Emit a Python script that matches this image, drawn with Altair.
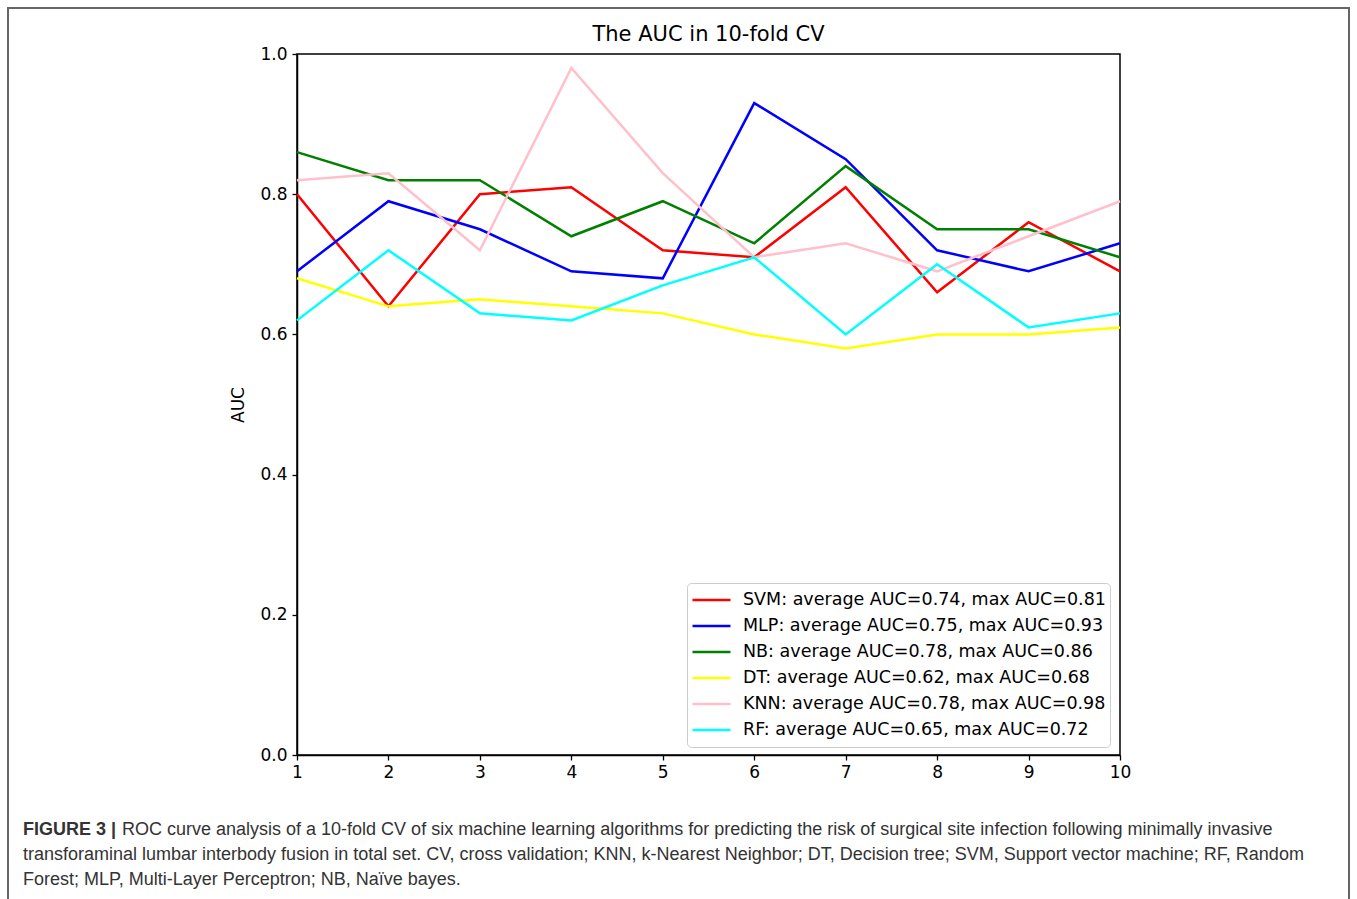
import altair as alt
import pandas as pd
import numpy as np

folds = list(range(1, 11))
series_names = ["SVM", "MLP", "NB", "DT", "KNN", "RF"]
series_colors = ["#ff0000", "#0000ff", "#008000", "#ffff00", "#ffc0cb", "#00ffff"]

svm = [0.80, 0.64, 0.80, 0.81, 0.72, 0.71, 0.81, 0.66, 0.76, 0.69]
mlp = [0.69, 0.79, 0.75, 0.69, 0.68, 0.93, 0.85, 0.72, 0.69, 0.73]
nb = [0.86, 0.82, 0.82, 0.74, 0.79, 0.73, 0.84, 0.75, 0.75, 0.71]
dt = [0.68, 0.64, 0.65, 0.64, 0.63, 0.60, 0.58, 0.60, 0.60, 0.61]
knn = [0.82, 0.83, 0.72, 0.98, 0.83, 0.71, 0.73, 0.69, 0.74, 0.79]
rf = [0.62, 0.72, 0.63, 0.62, 0.67, 0.71, 0.60, 0.70, 0.61, 0.63]

y_ticks = [0.0, 0.2, 0.4, 0.6, 0.8, 1.0]

title_text = "The AUC in 10-fold CV"
caption_bold = "FIGURE 3 |"
caption_1 = "ROC curve analysis of a 10-fold CV of six machine learning algorithms for predicting the risk of surgical site infection following minimally invasive"
caption_2 = "transforaminal lumbar interbody fusion in total set. CV, cross validation; KNN, k-Nearest Neighbor; DT, Decision tree; SVM, Support vector machine; RF, Random"
caption_3 = "Forest; MLP, Multi-Layer Perceptron; NB, Naïve bayes."

all_series = [svm, mlp, nb, dt, knn, rf]
labels = [f"{n}: average AUC={np.mean(v):.2f}, max AUC={max(v):.2f}" for n, v in zip(series_names, all_series)]

rows = []
for lab, vals in zip(labels, all_series):
    for f, v in zip(folds, vals):
        rows.append({"fold": f, "auc": v, "model": lab})
df = pd.DataFrame(rows)

W, H = 823, 701
L, T = 297, 54

lines = alt.Chart(df).mark_line(strokeWidth=2.5, clip=False).encode(
    x=alt.X("fold:Q", scale=alt.Scale(domain=[1, 10], nice=False, zero=False),
            axis=alt.Axis(values=folds, format="d", title=None, grid=False,
                          tickSize=5, labelFontSize=17, labelFont="DejaVu Sans",
                          labelColor="black", domainColor="black", tickColor="black",
                          domainWidth=1.5, tickWidth=1.3, labelPadding=4,
                          labelFlush=False, labelOverlap=False)),
    y=alt.Y("auc:Q", scale=alt.Scale(domain=[0, 1], nice=False),
            axis=alt.Axis(values=y_ticks, format=".1f", title="AUC", grid=False,
                          tickSize=5, labelFontSize=17, labelFont="DejaVu Sans",
                          labelColor="black", domainColor="black", tickColor="black",
                          domainWidth=1.5, tickWidth=1.3, labelPadding=5,
                          labelFlush=False, labelOverlap=False,
                          titleFont="DejaVu Sans", titleFontSize=17,
                          titleFontWeight="normal", titleColor="black", titlePadding=12)),
    color=alt.Color("model:N", scale=alt.Scale(domain=labels, range=series_colors),
                    sort=labels,
                    legend=alt.Legend(title=None, orient="none", legendX=390, legendY=529,
                                      symbolType="stroke", symbolSize=1444,
                                      symbolStrokeWidth=2.5, labelFontSize=17.5,
                                      labelFont="DejaVu Sans", labelColor="black",
                                      labelOffset=11, rowPadding=0, clipHeight=26,
                                      padding=4,
                                      strokeColor="#cccccc", fillColor="white",
                                      cornerRadius=4, labelLimit=500)),
    detail="model:N",
)

frame = alt.Chart(pd.DataFrame({"a": [0]})).mark_rect(
    fill=None, stroke="#666666", strokeWidth=2, clip=False
).encode(
    x=alt.value(8 - L), x2=alt.value(1349 - L),
    y=alt.value(8 - T), y2=alt.value(920 - T),
)

title = alt.Chart(pd.DataFrame({"t": [title_text]})).mark_text(
    align="center", baseline="middle", font="DejaVu Sans", fontSize=21,
    color="black", clip=False
).encode(text="t:N", x=alt.value(W / 2), y=alt.value(35 - T))

def cap(text, x, y, bold=False):
    return alt.Chart(pd.DataFrame({"t": [text]})).mark_text(
        align="left", baseline="middle", font="Liberation Sans", fontSize=18,
        fontWeight="bold" if bold else "normal", color="#333333", clip=False
    ).encode(text="t:N", x=alt.value(x - L), y=alt.value(y - T))

caps = (cap(caption_bold, 23, 830, True) + cap(caption_1, 122, 830)
        + cap(caption_2, 23, 855) + cap(caption_3, 23, 880))

chart = alt.layer(frame, lines, title, caps).properties(
    width=W, height=H,
    autosize=alt.AutoSizeParams(type="none"),
    padding={"left": L, "top": T, "right": 1357 - L - W, "bottom": 899 - T - H},
).configure_view(stroke="black", strokeWidth=1.5)

chart.save("out.html", embed_options={"renderer": "svg", "actions": False})
